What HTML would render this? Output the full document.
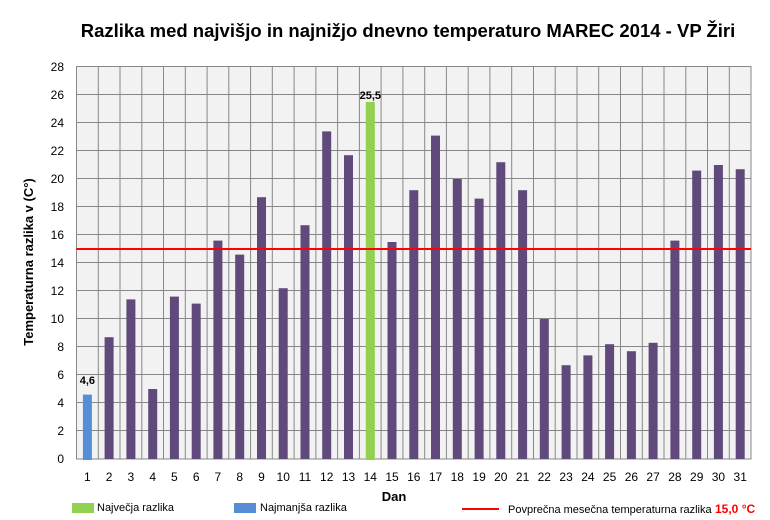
<!DOCTYPE html>
<html><head><meta charset="utf-8"><style>
html,body{margin:0;padding:0;background:#fff}
svg{display:block}
text{font-family:"Liberation Sans",sans-serif;fill:#000}
</style></head><body>
<svg width="770" height="520" viewBox="0 0 770 520" xmlns="http://www.w3.org/2000/svg">
<text x="408" y="37" text-anchor="middle" font-size="18.5" font-weight="bold">Razlika med najvišjo  in najnižjo  dnevno  temperaturo MAREC 2014 - VP Žiri</text>
<rect x="76.5" y="66.5" width="674.5" height="392.5" fill="#f2f2f2" stroke="#888" stroke-width="1"/>
<g stroke="#888" stroke-width="1">
<path d="M76.5 94.5H751M76.5 122.5H751M76.5 150.5H751M76.5 178.5H751M76.5 206.5H751M76.5 234.5H751M76.5 262.5H751M76.5 290.5H751M76.5 318.5H751M76.5 346.5H751M76.5 374.5H751M76.5 402.5H751M76.5 430.5H751"/>
<path d="M98.3 66.5V459M120 66.5V459M141.8 66.5V459M163.5 66.5V459M185.3 66.5V459M207.1 66.5V459M228.8 66.5V459M250.6 66.5V459M272.3 66.5V459M294.1 66.5V459M315.9 66.5V459M337.6 66.5V459M359.4 66.5V459M381.1 66.5V459M402.9 66.5V459M424.7 66.5V459M446.4 66.5V459M468.2 66.5V459M489.9 66.5V459M511.7 66.5V459M533.5 66.5V459M555.2 66.5V459M577 66.5V459M598.7 66.5V459M620.5 66.5V459M642.3 66.5V459M664 66.5V459M685.8 66.5V459M707.5 66.5V459M729.3 66.5V459"/>
</g>
<g fill="#604a7b">
<rect x="104.6" y="337.2" width="9" height="121.8"/>
<rect x="126.4" y="299.4" width="9" height="159.6"/>
<rect x="148.2" y="389" width="9" height="70"/>
<rect x="169.9" y="296.6" width="9" height="162.4"/>
<rect x="191.7" y="303.6" width="9" height="155.4"/>
<rect x="213.4" y="240.6" width="9" height="218.4"/>
<rect x="235.2" y="254.6" width="9" height="204.4"/>
<rect x="257" y="197.2" width="9" height="261.8"/>
<rect x="278.7" y="288.2" width="9" height="170.8"/>
<rect x="300.5" y="225.2" width="9" height="233.8"/>
<rect x="322.2" y="131.4" width="9" height="327.6"/>
<rect x="344" y="155.2" width="9" height="303.8"/>
<rect x="387.5" y="242" width="9" height="217"/>
<rect x="409.3" y="190.2" width="9" height="268.8"/>
<rect x="431" y="135.6" width="9" height="323.4"/>
<rect x="452.8" y="179" width="9" height="280"/>
<rect x="474.6" y="198.6" width="9" height="260.4"/>
<rect x="496.3" y="162.2" width="9" height="296.8"/>
<rect x="518.1" y="190.2" width="9" height="268.8"/>
<rect x="539.8" y="319" width="9" height="140"/>
<rect x="561.6" y="365.2" width="9" height="93.8"/>
<rect x="583.4" y="355.4" width="9" height="103.6"/>
<rect x="605.1" y="344.2" width="9" height="114.8"/>
<rect x="626.9" y="351.2" width="9" height="107.8"/>
<rect x="648.6" y="342.8" width="9" height="116.2"/>
<rect x="670.4" y="240.6" width="9" height="218.4"/>
<rect x="692.2" y="170.6" width="9" height="288.4"/>
<rect x="713.9" y="165" width="9" height="294"/>
<rect x="735.7" y="169.2" width="9" height="289.8"/>
</g>
<rect x="82.9" y="394.6" width="9" height="65.4" fill="#558ed5"/>
<rect x="365.8" y="102" width="9" height="358" fill="#92d050"/>
<line x1="76.5" y1="249" x2="751" y2="249" stroke="#ff0000" stroke-width="2"/>
<text x="87.4" y="384" text-anchor="middle" font-size="11" font-weight="bold">4,6</text>
<text x="370.3" y="99" text-anchor="middle" font-size="11" font-weight="bold">25,5</text>
<g font-size="12" text-anchor="end">
<text x="64" y="71">28</text><text x="64" y="99">26</text><text x="64" y="127">24</text><text x="64" y="155">22</text><text x="64" y="183">20</text><text x="64" y="211">18</text><text x="64" y="239">16</text><text x="64" y="267">14</text><text x="64" y="295">12</text><text x="64" y="323">10</text><text x="64" y="351">8</text><text x="64" y="379">6</text><text x="64" y="407">4</text><text x="64" y="435">2</text><text x="64" y="463">0</text>
</g>
<g font-size="12" text-anchor="middle">
<text x="87.4" y="481">1</text><text x="109.1" y="481">2</text><text x="130.9" y="481">3</text><text x="152.7" y="481">4</text><text x="174.4" y="481">5</text><text x="196.2" y="481">6</text><text x="217.9" y="481">7</text><text x="239.7" y="481">8</text><text x="261.5" y="481">9</text><text x="283.2" y="481">10</text><text x="305" y="481">11</text><text x="326.7" y="481">12</text><text x="348.5" y="481">13</text><text x="370.3" y="481">14</text><text x="392" y="481">15</text><text x="413.8" y="481">16</text><text x="435.5" y="481">17</text><text x="457.3" y="481">18</text><text x="479.1" y="481">19</text><text x="500.8" y="481">20</text><text x="522.6" y="481">21</text><text x="544.3" y="481">22</text><text x="566.1" y="481">23</text><text x="587.9" y="481">24</text><text x="609.6" y="481">25</text><text x="631.4" y="481">26</text><text x="653.1" y="481">27</text><text x="674.9" y="481">28</text><text x="696.7" y="481">29</text><text x="718.4" y="481">30</text><text x="740.2" y="481">31</text>
</g>
<text x="33" y="262" transform="rotate(-90 33 262)" text-anchor="middle" font-size="13" font-weight="bold">Temperaturna razlika v (C°)</text>
<text x="394" y="501" text-anchor="middle" font-size="13" font-weight="bold">Dan</text>
<rect x="72" y="503" width="22" height="10" fill="#92d050"/>
<text x="97" y="511" font-size="11">Največja razlika</text>
<rect x="234" y="503" width="22" height="10" fill="#558ed5"/>
<text x="260" y="511" font-size="11">Najmanjša razlika</text>
<line x1="462" y1="509" x2="499" y2="509" stroke="#ff0000" stroke-width="2"/>
<text x="508" y="513" font-size="11">Povprečna mesečna temperaturna razlika</text>
<text x="715" y="513" font-size="12" font-weight="bold" style="fill:#ff0000">15,0 °C</text>
</svg>
</body></html>
